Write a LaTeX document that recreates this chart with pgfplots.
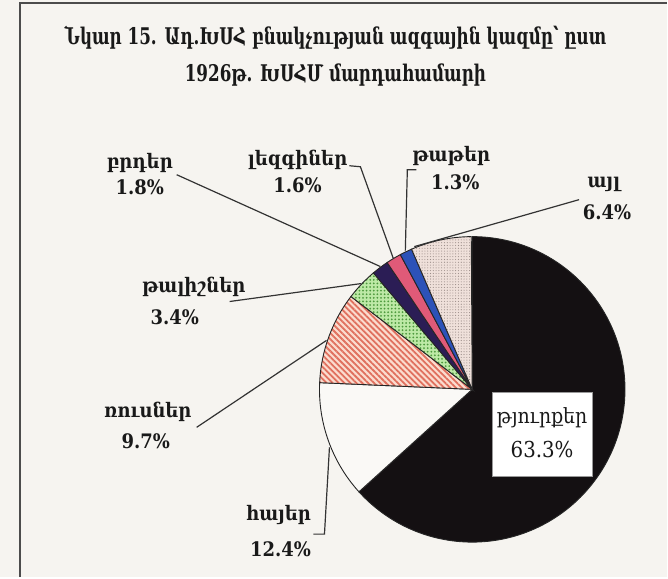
\documentclass[border=0pt]{standalone}
\usepackage{fontspec}
\setmainfont{DejaVu Serif Condensed}
\newfontfamily\titlefont[FakeStretch=0.81]{DejaVu Serif Condensed}
\usepackage{pgfplots}
\pgfplotsset{compat=1.18}
\usetikzlibrary{patterns.meta}
\definecolor{bg}{HTML}{F6F4F0}
\definecolor{armc}{HTML}{FAF9F6}
\definecolor{rusbg}{HTML}{FBDCCF}
\definecolor{rusln}{HTML}{E0705E}
\definecolor{talbg}{HTML}{BDE9A6}
\definecolor{talln}{HTML}{4E9A3E}
\definecolor{kurc}{HTML}{2B1D55}
\definecolor{lezc}{HTML}{E05A78}
\definecolor{tatc}{HTML}{2C52B8}
\definecolor{othbg}{HTML}{EFE0DA}
\definecolor{othdot}{HTML}{9A8C88}
\definecolor{turc}{HTML}{141012}
\tikzset{
  s1/.style={fill=turc},
  s2/.style={fill=armc},
  s3/.style={fill=rusbg, postaction={pattern={Lines[angle=-45,distance=2.1pt,line width=0.9pt]}, pattern color=rusln}},
  s4/.style={fill=talbg, postaction={pattern={Dots[distance=1.8pt,radius=0.5pt]}, pattern color=talln}},
  s5/.style={fill=kurc},
  s6/.style={fill=lezc},
  s7/.style={fill=tatc},
  s8/.style={fill=othbg, postaction={pattern={Dots[distance=1.4pt,radius=0.28pt]}, pattern color=othdot}},
  lab/.style={font=\bfseries\fontsize{10}{11}\selectfont, text=black!90, inner sep=0pt, anchor=center},
  lead/.style={draw=black!80, line width=0.6pt}
}
\begin{document}
\begin{tikzpicture}
\begin{axis}[
  x=0.5pt, y=0.5pt, xmin=0, xmax=668, ymin=0, ymax=578,
  y dir=reverse, hide axis, clip=false, scale only axis]
% background and frame
\fill[bg] (axis cs:0,0) rectangle (axis cs:668,578);
\draw[black!70, line width=1.1pt] (axis cs:20,578) -- (axis cs:20,3) -- (axis cs:668,3);
% pie slices: percentages 1926 census
\pgfplotsextra{
\foreach \v/\sty [remember=\ea as \sa (initially 90)] in
  {63.3/s1, 12.4/s2, 9.7/s3, 3.4/s4, 1.8/s5, 1.6/s6, 1.3/s7, 6.4/s8} {
  \pgfmathsetmacro\ea{\sa-3.6*\v}
  \path[\sty] (axis cs:473,390) -- ++(\sa:76.5pt) arc[start angle=\sa, end angle=\ea, radius=76.5pt] -- cycle;
  \draw[black!85, line width=0.45pt] (axis cs:473,390) -- ++(\sa:76.5pt) arc[start angle=\sa, end angle=\ea, radius=76.5pt] -- cycle;
}
}
% leader lines
\draw[lead] (axis cs:177,175) -- (axis cs:381,267);
\draw[lead] (axis cs:350,166) -- (axis cs:361,167) -- (axis cs:394,259);
\draw[lead] (axis cs:417,170) -- (axis cs:408,170) -- (axis cs:406,251);
\draw[lead] (axis cs:580,200) -- (axis cs:415,247);
\draw[lead] (axis cs:230,302) -- (axis cs:362,284);
\draw[lead] (axis cs:197,428) -- (axis cs:327,341);
\draw[lead] (axis cs:314,535) -- (axis cs:325,535) -- (axis cs:330,448);
% title
\node[lab, font=\titlefont\bfseries\fontsize{11.5}{13}\selectfont] at (axis cs:336,38) {Նկար 15. Ադ.ԽՍՀ բնակչության ազգային կազմը՝ ըստ};
\node[lab, font=\titlefont\bfseries\fontsize{11.5}{13}\selectfont] at (axis cs:336,75) {1926թ. ԽՍՀՄ մարդահամարի};
% labels
\node[lab] at (axis cs:140,163) {բրդեր};
\node[lab] at (axis cs:140,188) {1.8\%};
\node[lab] at (axis cs:298,160) {լեզգիներ};
\node[lab] at (axis cs:298,186) {1.6\%};
\node[lab] at (axis cs:452,156) {թաթեր};
\node[lab] at (axis cs:456,183) {1.3\%};
\node[lab] at (axis cs:605,185) {այլ};
\node[lab] at (axis cs:608,213) {6.4\%};
\node[lab] at (axis cs:194,287) {թալիշներ};
\node[lab] at (axis cs:175,318) {3.4\%};
\node[lab] at (axis cs:148,413) {ռուսներ};
\node[lab] at (axis cs:146,442) {9.7\%};
\node[lab] at (axis cs:279,516) {հայեր};
\node[lab] at (axis cs:281,550) {12.4\%};
% box
\fill[white, draw=black!40, line width=0.5pt] (axis cs:493,393) rectangle (axis cs:593,477);
\node[lab, font=\fontsize{10.5}{11}\selectfont] at (axis cs:543,418) {թյուրքեր};
\node[lab, font=\fontsize{11}{12}\selectfont] at (axis cs:543,450) {63.3\%};
\end{axis}
\end{tikzpicture}
\end{document}
